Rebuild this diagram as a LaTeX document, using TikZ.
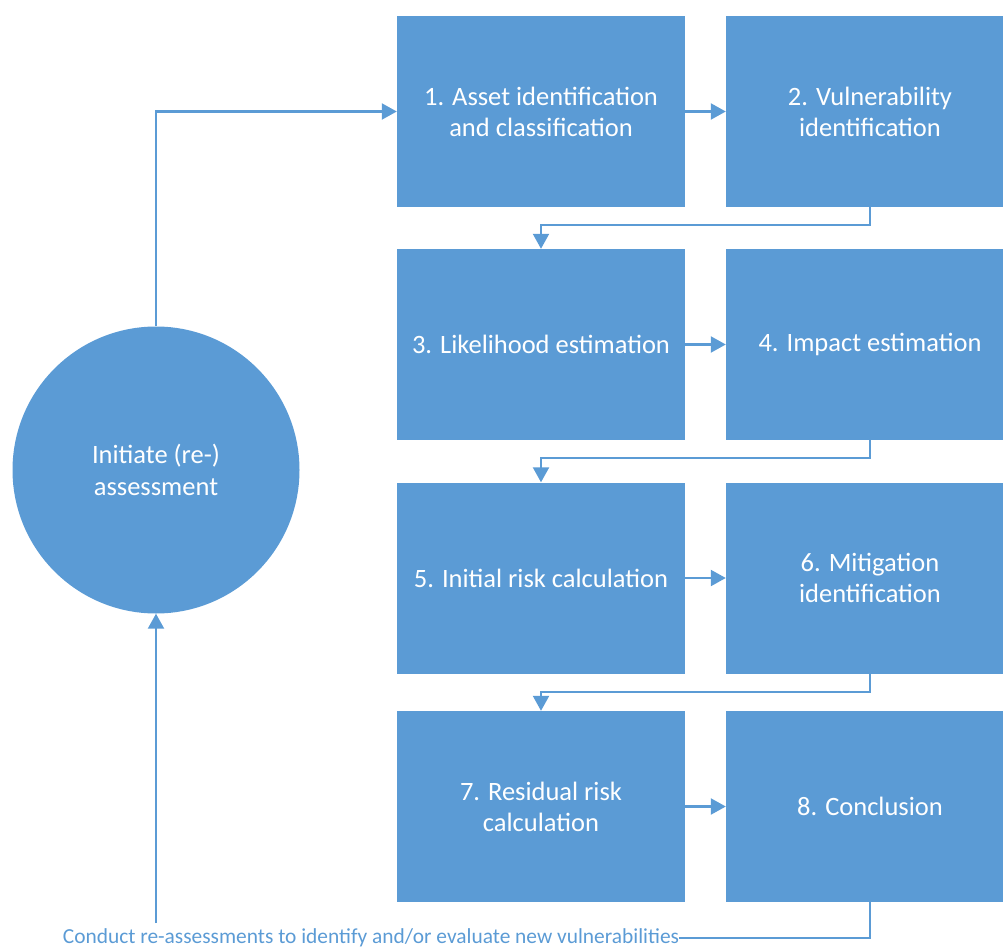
\documentclass[tikz,border=0pt]{standalone}
\usepackage{fontspec}
\setmainfont{Carlito}
\usetikzlibrary{arrows.meta}
\definecolor{officeblue}{HTML}{5B9BD5}
\tikzset{
  stepbox/.style={fill=officeblue,minimum width=288pt,minimum height=191pt,
    text=white,align=center,font=\fontsize{26.5}{31}\selectfont,inner sep=0pt},
  flow/.style={draw=officeblue,line width=2.2pt,-{Triangle[length=15pt,width=16pt]}}
}
\begin{document}
\begin{tikzpicture}[x=1pt,y=-1pt]
\useasboundingbox (0,0) rectangle (1003,949);
\clip (0,0) rectangle (1003,949);
% start circle
\node[circle,fill=officeblue,minimum size=287pt,inner sep=0pt,text=white,align=center,
  font=\fontsize{26.5}{32}\selectfont] (init) at (156,470) {Initiate (re-)\\assessment};
% steps
\node[stepbox] (s1) at (541,111.5) {1. Asset identification\\and classification};
\node[stepbox] (s2) at (870,111.5) {2. Vulnerability\\identification};
\node[stepbox] (s3) at (541,344.5) {3. Likelihood estimation};
\node[stepbox] (s4) at (870,344.5) {4. Impact estimation};
\node[stepbox] (s5) at (541,578) {5. Initial risk calculation};
\node[stepbox] (s6) at (870,578) {6. Mitigation\\identification};
\node[stepbox] (s7) at (541,806.5) {7. Residual risk\\calculation};
\node[stepbox] (s8) at (870,806.5) {8. Conclusion};
% loop back label
\node[text=officeblue,font=\fontsize{21.4}{22}\selectfont,inner sep=0pt] (redo) at (371,938)
  {Conduct re-assessments to identify and/or evaluate new vulnerabilities};
% connectors
\draw[flow] (init.north) |- (s1.west);
\draw[flow] (s1) -- (s2);
\draw[flow] (s2.south) -- ++(0,18) -| (s3.north);
\draw[flow] (s3) -- (s4);
\draw[flow] (s4.south) -- ++(0,18) -| (s5.north);
\draw[flow] (s5) -- (s6);
\draw[flow] (s6.south) -- ++(0,18) -| (s7.north);
\draw[flow] (s7) -- (s8);
\draw[officeblue,line width=2.2pt] (s8.south) |- (redo.east);
\coordinate (back) at (init.south |- 0,923);
\draw[flow] (back) -- (init.south);
\end{tikzpicture}
\end{document}
